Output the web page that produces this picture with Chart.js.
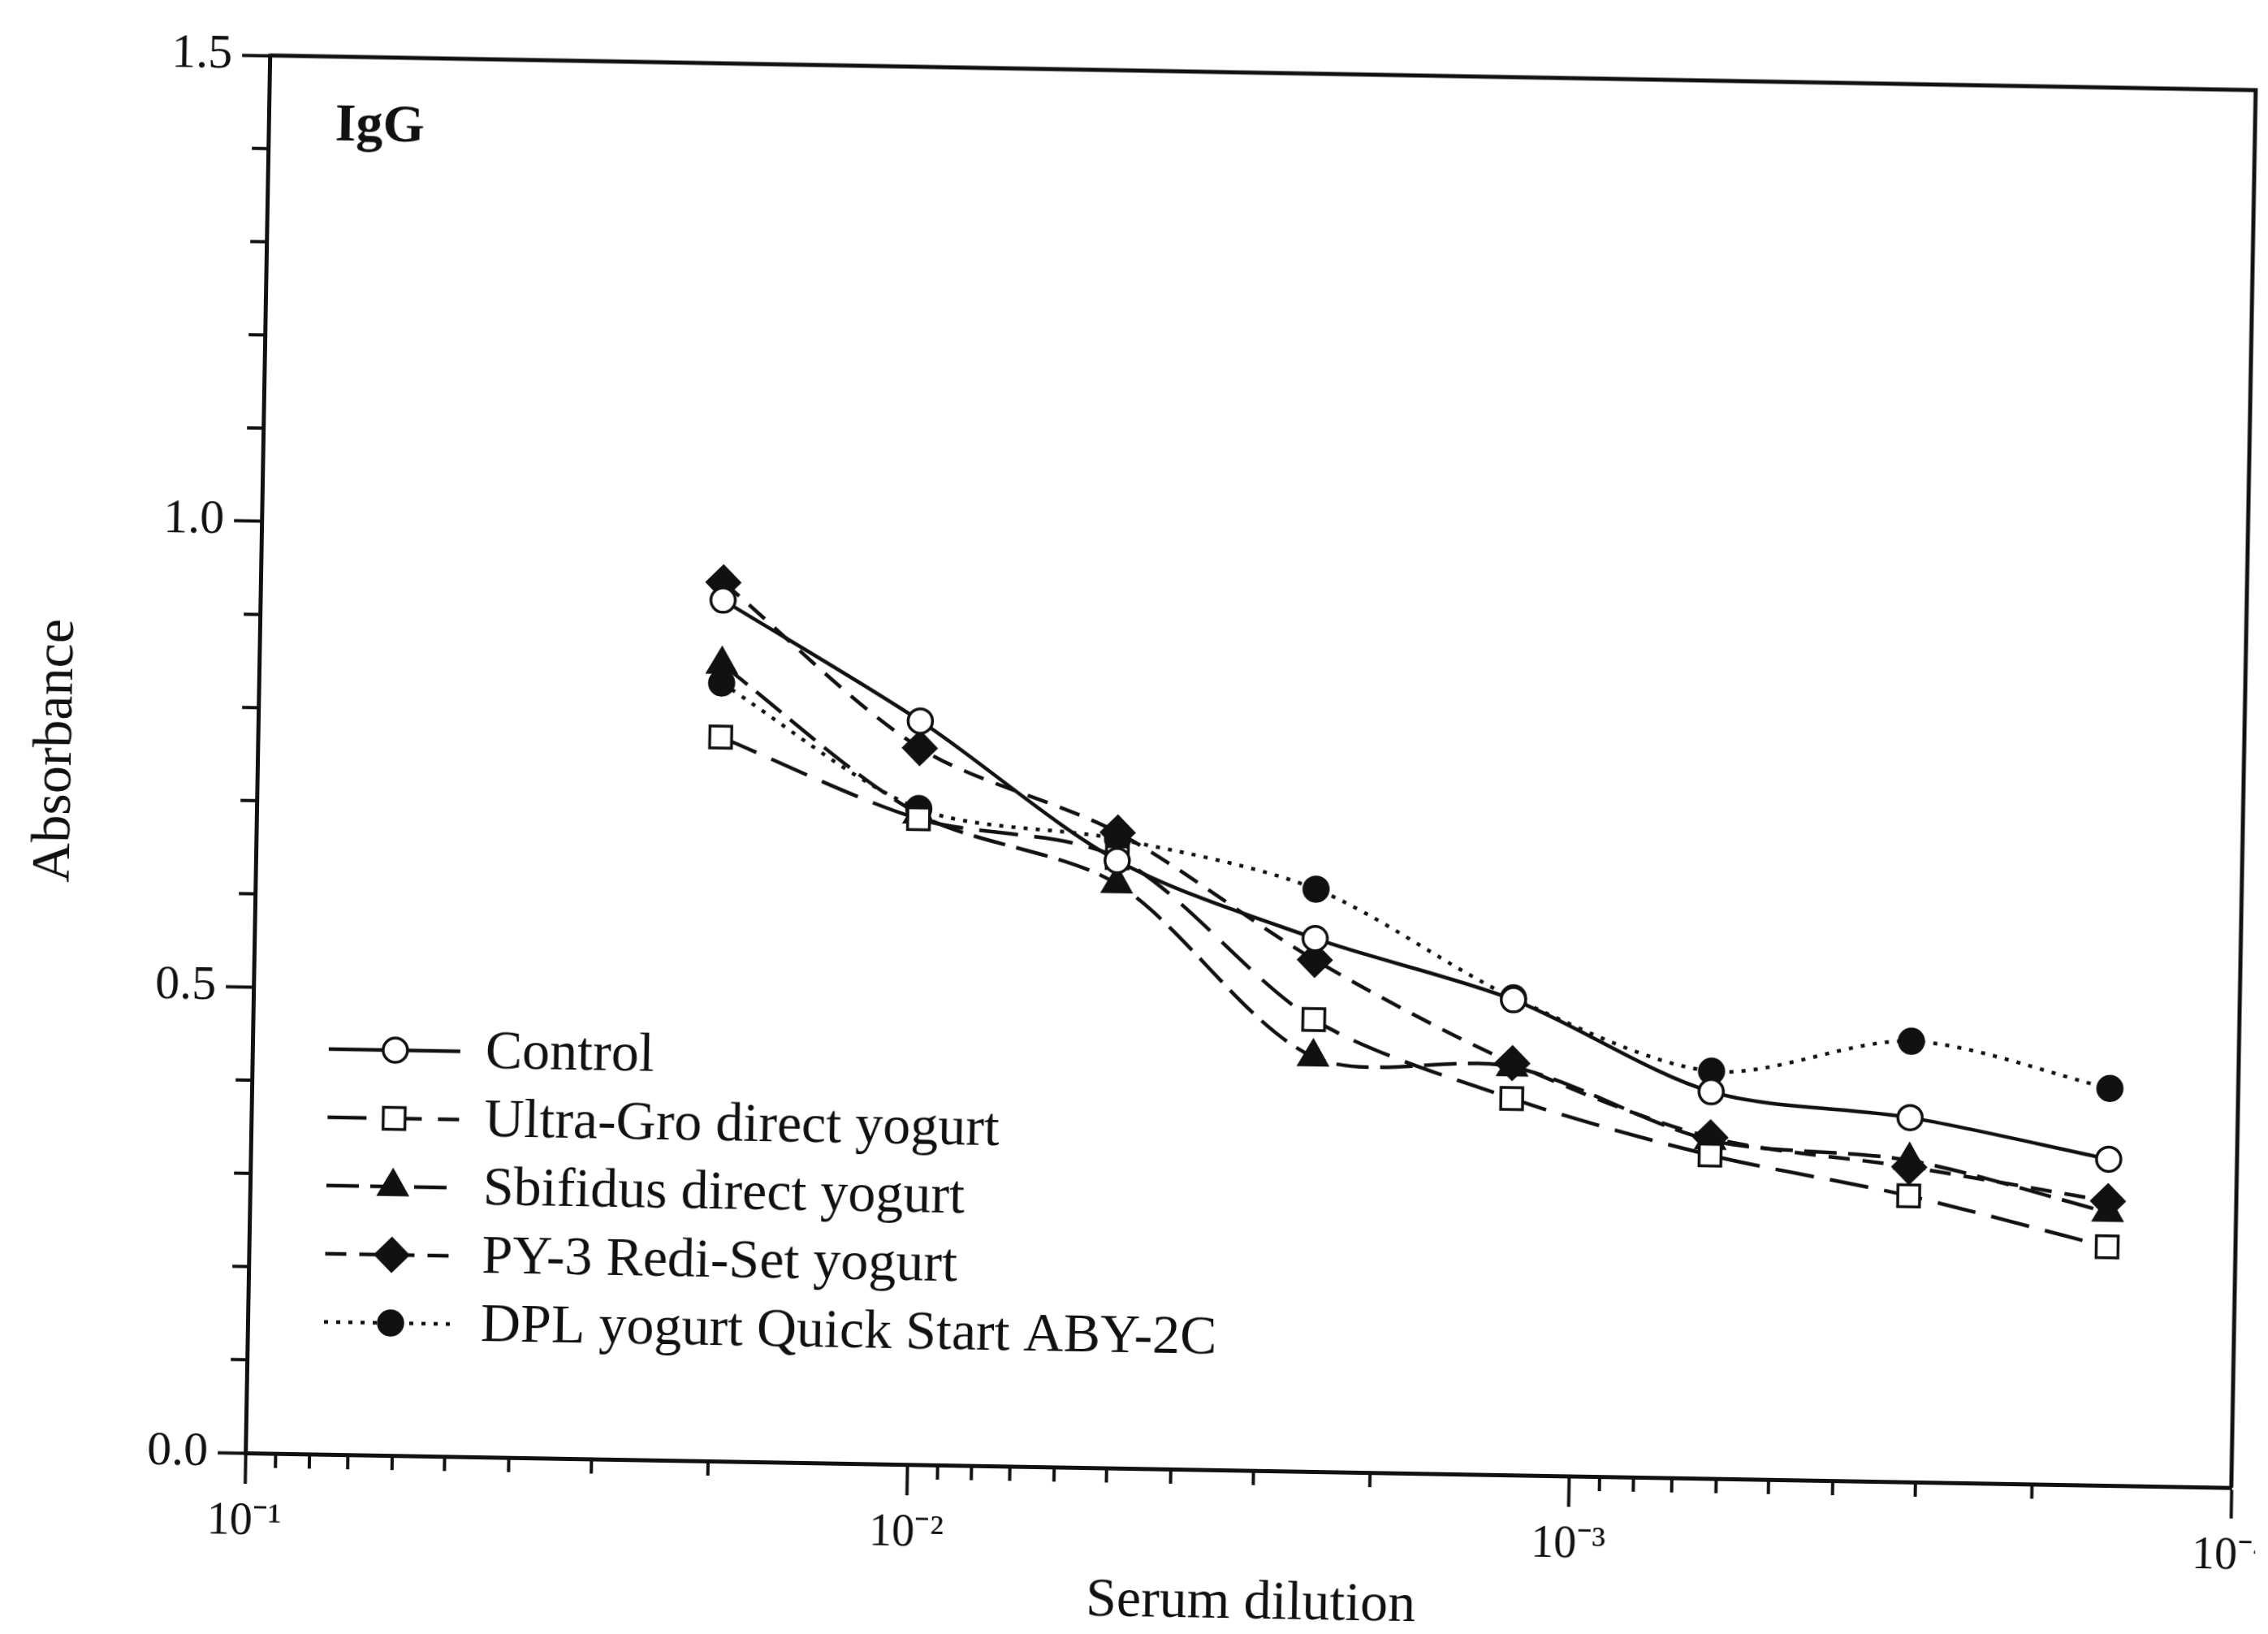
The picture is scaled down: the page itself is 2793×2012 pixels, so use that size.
<!DOCTYPE html>
<html>
<head>
<meta charset="utf-8">
<script src="https://cdn.jsdelivr.net/npm/chart.js@4.4.0/dist/chart.umd.min.js"></script>
<style>
  html, body { margin: 0; padding: 0; background: #fff; overflow: hidden; }
  /* the printed figure sits about one degree off square */
  canvas { display: block; transform: rotate(1deg); }
</style>
</head>
<body>
<canvas id="iggChart" width="2793" height="2012"></canvas>
<script>
// serum dilutions 1/50 ... 1/6400
const dilutions = [0.02, 0.01, 0.005, 0.0025, 0.00125, 0.000625, 0.0003125, 0.00015625];

// absorbance
const control = [0.924, 0.798, 0.652, 0.572, 0.51, 0.415, 0.391, 0.35];
const ultraGro = [0.777, 0.693, 0.655, 0.485, 0.404, 0.347, 0.307, 0.256];
const sbifidus = [0.855, 0.698, 0.627, 0.445, 0.438, 0.363, 0.345, 0.293];
const py3 = [0.943, 0.769, 0.682, 0.549, 0.442, 0.366, 0.338, 0.305];
const dpl = [0.835, 0.704, 0.675, 0.625, 0.512, 0.437, 0.473, 0.426];

const seriesNames = [
  "Control",
  "Ultra-Gro direct yogurt",
  "Sbifidus direct yogurt",
  "PY-3 Redi-Set yogurt",
  "DPL yogurt Quick Start ABY-2C",
];

const xTickValues = [1e-1, 1e-2, 1e-3, 1e-4];
const yTickValues = [0, 0.5, 1.0, 1.5];
const panelLabel = "IgG";
const xTitle = "Serum dilution";
const yTitle = "Absorbance";

const FONT = "'Liberation Serif', 'Times New Roman', serif";
const INK = "#111";

const sup = { "-": "\u207B", "0": "\u2070", "1": "\u00B9", "2": "\u00B2", "3": "\u00B3", "4": "\u2074" };
function powerLabel(v) {
  const e = Math.round(Math.log10(v));
  return "10" + String(e).split("").map((c) => sup[c]).join("");
}

function points(values) {
  return dilutions.map((d, i) => ({ x: d, y: values[i] }));
}

function series(label, values, style, radius, filled, dash) {
  return {
    label: label,
    data: points(values),
    borderColor: INK,
    borderWidth: 4.5,
    borderDash: dash,
    pointStyle: style,
    pointRadius: radius,
    pointHoverRadius: radius,
    pointBackgroundColor: filled ? INK : "#fff",
    pointBorderColor: INK,
    pointBorderWidth: 3.5,
    tension: 0.3,
    fill: false,
    clip: false,
  };
}

// frame, minor ticks, panel label, x title and the hand-made legend
const decorPlugin = {
  id: "decor",
  afterDraw(chart) {
    const ctx = chart.ctx;
    const area = chart.chartArea;
    const xs = chart.scales.x;
    const ys = chart.scales.y;
    ctx.save();
    ctx.strokeStyle = INK;

    // top and right edges of the box
    ctx.lineWidth = 5;
    ctx.beginPath();
    ctx.moveTo(area.left, area.top);
    ctx.lineTo(area.right, area.top);
    ctx.lineTo(area.right, area.bottom);
    ctx.stroke();

    // minor ticks
    ctx.lineWidth = 4;
    ctx.beginPath();
    for (let k = 1; k < 15; k++) {
      if (k % 5 === 0) continue;
      const py = ys.getPixelForValue(k / 10);
      ctx.moveTo(area.left - 20, py);
      ctx.lineTo(area.left, py);
    }
    [1e-4, 1e-3, 1e-2].forEach((d) => {
      for (let m = 2; m <= 9; m++) {
        const px = xs.getPixelForValue(m * d);
        ctx.moveTo(px, area.bottom);
        ctx.lineTo(px, area.bottom + 18);
      }
    });
    ctx.stroke();

    // panel label
    ctx.fillStyle = INK;
    ctx.font = "bold 66px " + FONT;
    ctx.textBaseline = "alphabetic";
    ctx.textAlign = "left";
    ctx.fillText(panelLabel, area.left + 82, area.top + 103);

    // x axis title, a little right of centre as in the print
    ctx.font = "68px " + FONT;
    ctx.textAlign = "center";
    ctx.fillText(xTitle, (area.left + area.right) / 2 + 18, area.bottom + 182);

    // legend
    const drawPoint = Chart.helpers && Chart.helpers.drawPoint;
    const x0 = area.left + 94;
    chart.data.datasets.forEach((ds, i) => {
      const y = area.bottom - 499 + i * 84;
      ctx.strokeStyle = ds.borderColor;
      ctx.lineWidth = ds.borderWidth;
      ctx.setLineDash(ds.borderDash || []);
      ctx.beginPath();
      ctx.moveTo(x0, y);
      ctx.lineTo(x0 + 162, y);
      ctx.stroke();
      ctx.setLineDash([]);
      ctx.fillStyle = ds.pointBackgroundColor;
      ctx.lineWidth = ds.pointBorderWidth;
      if (drawPoint) {
        drawPoint(ctx, {
          pointStyle: ds.pointStyle,
          rotation: 0,
          radius: ds.pointRadius,
          borderWidth: ds.pointBorderWidth,
        }, x0 + 82, y);
      }
      ctx.fillStyle = INK;
      ctx.font = "68px " + FONT;
      ctx.textAlign = "left";
      ctx.textBaseline = "middle";
      ctx.fillText(ds.label, x0 + 193, y + 2);
    });
    ctx.restore();
  },
};

new Chart(document.getElementById("iggChart"), {
  type: "line",
  data: {
    datasets: [
      series(seriesNames[0], control, "circle", 15, false, []),
      series(seriesNames[1], ultraGro, "rect", 19, false, [48, 20]),
      series(seriesNames[2], sbifidus, "triangle", 20, true, [40, 14]),
      series(seriesNames[3], py3, "rectRot", 20, true, [26, 16]),
      series(seriesNames[4], dpl, "circle", 15, true, [5, 10]),
    ],
  },
  options: {
    responsive: false,
    animation: false,
    layout: { padding: { top: 87, right: 31, left: 0, bottom: 0 } },
    plugins: {
      legend: { display: false },
      tooltip: { enabled: false },
    },
    scales: {
      x: {
        type: "logarithmic",
        reverse: true,
        min: 1e-4,
        max: 1e-1,
        afterBuildTicks: (scale) => {
          scale.ticks = xTickValues.map((v) => ({ value: v }));
        },
        afterFit: (scale) => {
          scale.height = 204;
          scale.paddingLeft = 0;
          scale.paddingRight = 0;
        },
        border: { display: true, color: INK, width: 5 },
        grid: {
          drawOnChartArea: false,
          drawTicks: true,
          tickLength: 38,
          tickWidth: 4,
          tickColor: INK,
        },
        ticks: {
          autoSkip: false,
          maxRotation: 0,
          padding: 14,
          color: INK,
          font: { family: FONT, size: 56 },
          callback: (v) => powerLabel(v),
        },
      },
      y: {
        type: "linear",
        min: 0,
        max: 1.5,
        afterBuildTicks: (scale) => {
          scale.ticks = yTickValues.map((v) => ({ value: v }));
        },
        afterFit: (scale) => {
          scale.width = 316;
        },
        border: { display: true, color: INK, width: 5 },
        grid: {
          drawOnChartArea: false,
          drawTicks: true,
          tickLength: 34,
          tickWidth: 4,
          tickColor: INK,
        },
        ticks: {
          padding: 12,
          color: INK,
          font: { family: FONT, size: 60 },
          callback: (v) => v.toFixed(1),
        },
        title: {
          display: true,
          text: yTitle,
          color: INK,
          font: { family: FONT, size: 68 },
          padding: { top: 27, bottom: 0 },
        },
      },
    },
  },
  plugins: [decorPlugin],
});
</script>
</body>
</html>
